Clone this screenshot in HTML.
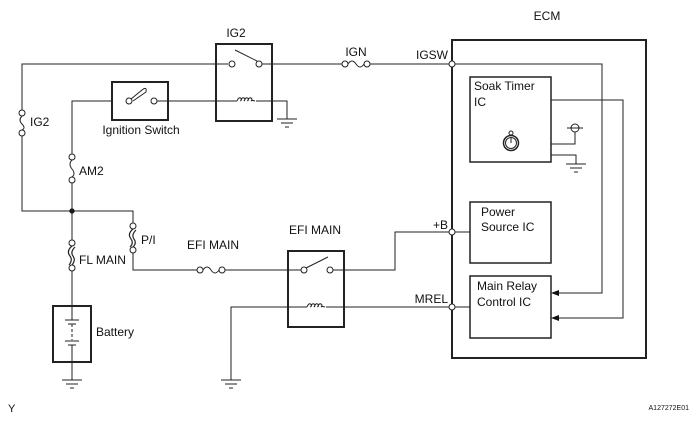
<!DOCTYPE html>
<html><head><meta charset="utf-8"><style>
body{margin:0;background:#fff}
svg{display:block}
text{font-family:"Liberation Sans",sans-serif;font-size:12px;fill:#111}
</style></head><body>
<svg width="692" height="422" viewBox="0 0 692 422" xmlns="http://www.w3.org/2000/svg">
<defs>
<g id="gnd" stroke="#222" stroke-width="1" fill="none">
<line x1="-10" y1="0" x2="10" y2="0"/><line x1="-6" y1="4" x2="6" y2="4"/><line x1="-2" y1="8" x2="2" y2="8"/>
</g>
<g id="coil" fill="none" stroke="#222" stroke-width="1">
<path d="M-10,0 q1.5,-4 3.5,-3 q2,1 0,3 q1.5,-4 3.5,-3 q2,1 0,3 q1.5,-4 3.5,-3 q2,1 0,3 q1.5,-4 3.5,-3 q2,1 0,3 q1,-1 4,0"/>
</g>
</defs>
<g stroke="#222" stroke-width="1" fill="none">
<polyline points="22,110 22,64 228,64"/>
<line x1="262" y1="64" x2="342" y2="64"/>
<line x1="370" y1="64" x2="449" y2="64"/>
<circle cx="22" cy="113" r="3" fill="#fff"/><circle cx="22" cy="133" r="3" fill="#fff"/>
<path d="M22,116 q-4,4 0,8 q4,4 0,6"/>
<polyline points="22,136 22,211 133,211 133,223"/>
<circle cx="72" cy="211" r="2.2" fill="#111"/>
<rect x="216" y="44" width="56" height="77" stroke-width="2"/>
<circle cx="232" cy="64" r="3" fill="#fff"/><circle cx="259" cy="64" r="3" fill="#fff"/>
<line x1="235" y1="50" x2="257" y2="61"/>
<line x1="168" y1="101" x2="237" y2="101"/>
<use href="#coil" x="247" y="101"/>
<polyline points="256,101 287,101 287,119"/>
<use href="#gnd" x="287" y="119"/>
<rect x="112" y="82" width="56" height="38" stroke-width="2"/>
<circle cx="129" cy="101" r="3" fill="#fff"/><circle cx="154" cy="101" r="3" fill="#fff"/>
<path d="M131,99 L142,90 Q147,86 146,92 L133,101"/>
<line x1="157" y1="101" x2="168" y2="101"/>
<polyline points="112,101 72,101 72,154"/>
<circle cx="72" cy="157" r="3" fill="#fff"/><circle cx="72" cy="180" r="3" fill="#fff"/>
<path d="M72,160 q-4,4 0,9 q4,5 0,8"/>
<line x1="72" y1="183" x2="72" y2="240"/>
<circle cx="72" cy="243" r="3" fill="#fff"/><circle cx="72" cy="268" r="3" fill="#fff"/>
<path d="M72,246 q-6,5 -2,10 q3,4 -1,9 M75,247 q-5,5 -2,9 q3,4 -1,9" stroke-width="1.2"/>
<line x1="72" y1="271" x2="72" y2="306"/>
<circle cx="133" cy="226" r="3" fill="#fff"/><circle cx="133" cy="250" r="3" fill="#fff"/>
<path d="M133,229 q-6,5 -2,10 q3,4 -1,8 M136,230 q-5,5 -2,9 q3,4 -1,8" stroke-width="1.2"/>
<polyline points="133,253 133,270 197,270"/>
<circle cx="200" cy="270" r="3" fill="#fff"/><circle cx="222" cy="270" r="3" fill="#fff"/>
<path d="M203,270 q4,-6 8,0 q4,6 8,0"/>
<line x1="225" y1="270" x2="301" y2="270"/>
<rect x="288" y="251" width="56" height="76" stroke-width="2"/>
<circle cx="304" cy="270" r="3" fill="#fff"/><circle cx="330" cy="270" r="3" fill="#fff"/>
<line x1="306" y1="268" x2="328" y2="257"/>
<polyline points="333,270 395,270 395,232 449,232"/>
<polyline points="231,380 231,307 307,307"/>
<use href="#coil" x="317" y="307"/>
<line x1="326" y1="307" x2="449" y2="307"/>
<use href="#gnd" x="231" y="380"/>
<rect x="53" y="306" width="38" height="56" stroke-width="2"/>
<line x1="72" y1="306" x2="72" y2="320"/>
<line x1="65" y1="320" x2="79" y2="320"/><line x1="68" y1="324" x2="76" y2="324"/>
<line x1="72" y1="324" x2="72" y2="340" stroke-dasharray="3,2"/>
<line x1="65" y1="341" x2="79" y2="341"/><line x1="68" y1="345" x2="76" y2="345"/>
<line x1="72" y1="345" x2="72" y2="380"/>
<use href="#gnd" x="72" y="380"/>
<circle cx="345" cy="64" r="3" fill="#fff"/><circle cx="367" cy="64" r="3" fill="#fff"/>
<path d="M348,64 q4,-6 8,0 q4,6 8,0"/>
<rect x="452" y="40" width="194" height="318" stroke-width="2"/>
<circle cx="452" cy="64" r="3" fill="#fff"/>
<circle cx="452" cy="232" r="3" fill="#fff"/>
<circle cx="452" cy="307" r="3" fill="#fff"/>
<polyline points="455,64 602,64 602,293 556,293"/>
<rect x="470" y="77" width="81" height="85" stroke-width="1.5"/>
<polyline points="551,100 623,100 623,318 556,318"/>
<circle cx="511" cy="143" r="7.5" stroke-width="1.5"/><circle cx="511" cy="143" r="5.5"/>
<circle cx="511" cy="133" r="2"/><line x1="511" y1="143" x2="511" y2="138"/>
<polyline points="551,144 575,144 575,132"/>
<circle cx="575" cy="128" r="4"/><line x1="567" y1="128" x2="583" y2="128"/>
<polyline points="551,155 576,155 576,164"/>
<use href="#gnd" x="576" y="164"/>
<rect x="470" y="202" width="81" height="61" stroke-width="1.5"/>
<line x1="455" y1="232" x2="470" y2="232"/>
<rect x="470" y="276" width="81" height="62" stroke-width="1.5"/>
<line x1="455" y1="307" x2="470" y2="307"/>
</g>
<polygon points="551,293 559,290 559,296" fill="#111"/>
<polygon points="551,318 559,315 559,321" fill="#111"/>
<text x="236" y="37" text-anchor="middle">IG2</text>
<text x="30" y="126">IG2</text>
<text x="141" y="134" text-anchor="middle">Ignition Switch</text>
<text x="79" y="175">AM2</text>
<text x="79" y="264">FL MAIN</text>
<text x="141" y="244">P/I</text>
<text x="213" y="249" text-anchor="middle">EFI MAIN</text>
<text x="315" y="234" text-anchor="middle">EFI MAIN</text>
<text x="96" y="336">Battery</text>
<text x="356" y="56" text-anchor="middle">IGN</text>
<text x="448" y="59" text-anchor="end">IGSW</text>
<text x="448" y="229" text-anchor="end">+B</text>
<text x="448" y="303" text-anchor="end">MREL</text>
<text x="547" y="20" text-anchor="middle">ECM</text>
<text x="474" y="90">Soak Timer</text>
<text x="474" y="106">IC</text>
<text x="481" y="216">Power</text>
<text x="481" y="231">Source IC</text>
<text x="477" y="290">Main Relay</text>
<text x="477" y="306">Control IC</text>
<text x="8" y="412" style="font-size:11px">Y</text>
<text x="689" y="410" text-anchor="end" style="font-size:7px">A127272E01</text>
</svg>
</body></html>
